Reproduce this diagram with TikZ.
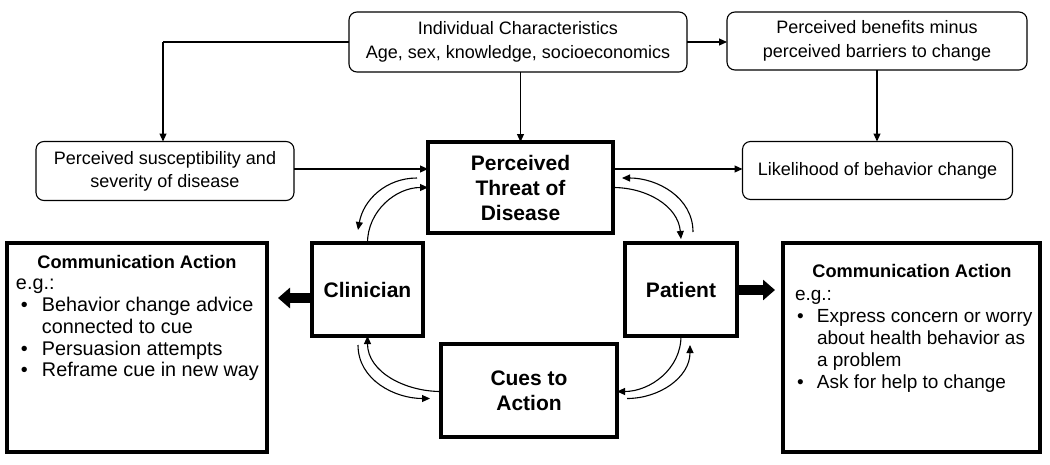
\documentclass[tikz,border=0pt]{standalone}
\usepackage{fontspec}
\setmainfont{Liberation Sans}
\usetikzlibrary{arrows.meta}
\begin{document}
\begin{tikzpicture}[x=1pt,y=-1pt,
  thin box/.style={draw, line width=1.1pt, rounded corners=8pt, inner sep=0pt, outer sep=0pt, align=center,
    font=\fontsize{18}{24}\selectfont},
  thick box/.style={draw, line width=3.2pt, inner sep=0pt, outer sep=0pt, align=center,
    font=\fontsize{21}{25}\selectfont\bfseries},
  comm box/.style={draw, line width=3.2pt, inner sep=0pt, outer sep=0pt},
  conn/.style={line width=1.1pt, -{Triangle[length=8pt,width=7pt]}},
  curv/.style={line width=1.1pt, -{Triangle[length=8pt,width=7pt]}},
  fat/.style={line width=10pt, -{Triangle[length=12pt,width=20pt]}},
  listtext/.style={inner sep=0pt, outer sep=0pt, anchor=north west, align=left,
    font=\fontsize{19.8}{21.7}\selectfont},
  titletext/.style={inner sep=0pt, anchor=base, font=\fontsize{18.2}{21.5}\selectfont\bfseries}
]
\useasboundingbox (0,0) rectangle (1050,464);

% top row
\node[thin box, minimum width=338pt, minimum height=60pt] (indiv) at (518,42)
  {Individual Characteristics\\Age, sex, knowledge, socioeconomics};
\node[thin box, minimum width=300pt, minimum height=58pt] (benef) at (877,41)
  {Perceived benefits minus\\perceived barriers to change};

% second row
\node[thin box, minimum width=258pt, minimum height=59pt, font=\fontsize{18}{23}\selectfont] (susc) at (165,171)
  {Perceived susceptibility and\\severity of disease};
\node[thick box, minimum width=185pt, minimum height=91pt] (thr) at (520.5,187.5)
  {Perceived\\Threat of\\Disease};
\node[thin box, minimum width=270pt, minimum height=58pt] (like) at (877.5,170.5)
  {Likelihood of behavior change};

% middle row
\node[thick box, minimum width=111pt, minimum height=93pt] (clin) at (367.5,289.5) {Clinician};
\node[thick box, minimum width=112pt, minimum height=93pt] (pat) at (681,289.5) {Patient};
\node[thick box, minimum width=176pt, minimum height=93pt] (cues) at (529,390.5) {Cues to\\Action};

% communication boxes
\node[comm box, minimum width=260pt, minimum height=209pt] (lcomm) at (137,347.5) {};
\node[comm box, minimum width=257pt, minimum height=209pt] (rcomm) at (911.5,347.5) {};

\node[titletext] (ltitle) at (137,268) {Communication Action};
\node[listtext] (llist) at (16,274.8) {\strut e.g.:\\
\makebox[26pt][l]{\hspace{5pt}•}Behavior change advice\\
\hspace*{26pt}connected to cue\\
\makebox[26pt][l]{\hspace{5pt}•}Persuasion attempts\\
\makebox[26pt][l]{\hspace{5pt}•}Reframe cue in new way};

\node[titletext] (rtitle) at (912,277) {Communication Action};
\node[listtext, font=\fontsize{19}{22}\selectfont] (rlist) at (795,284.6) {\strut e.g.:\\
\makebox[22pt][l]{\hspace{2pt}•}Express concern or worry\\
\hspace*{22pt}about health behavior as\\
\hspace*{22pt}a problem\\
\makebox[22pt][l]{\hspace{2pt}•}Ask for help to change};

% straight connectors
\coordinate (corner) at (163,42);
\draw[line width=1.1pt] (indiv.west) -- (corner);
\draw[conn] (corner) -- (corner |- susc.north);
\draw[conn] (indiv.south -| thr.north) -- (thr.north);
\draw[conn] (indiv.east) -- (benef.west |- indiv.east);
\draw[conn] (benef.south) -- (benef.south |- like.north);
\draw[conn] (susc.east |- 0,169) -- (thr.west |- 0,169);
\draw[conn] (thr.east |- 0,169) -- (like.west |- 0,169);

% curved connectors
\draw[curv] ([xshift=-11pt,yshift=9.5pt]thr.west) to[out=180,in=80] ([xshift=-9.5pt,yshift=13pt]clin.north);
\draw[curv] (clin.north) to[out=90,in=180] (thr.west);
\draw[curv] (thr.east) to[out=0,in=95] ([yshift=4pt]pat.north);
\draw[curv] ([xshift=12pt,yshift=11pt]pat.north) to[out=90,in=0] ([xshift=9pt,yshift=9.5pt]thr.east);
\draw[curv] ([yshift=-1pt]cues.west) to[out=180,in=-90] (clin.south);
\draw[curv] ([xshift=-9.5pt,yshift=-9pt]clin.south) to[out=-90,in=180] ([xshift=-11pt,yshift=-8pt]cues.west);
\draw[curv] (pat.south) to[out=-90,in=0] ([yshift=-1pt]cues.east);
\draw[curv] ([xshift=10pt,yshift=-8pt]cues.east) to[out=0,in=-90] ([xshift=9pt,yshift=-9pt]pat.south);

% fat arrows
\coordinate (lfat) at (278,298);
\coordinate (rfat) at (775,290);
\draw[fat] (clin.west |- lfat) -- (lfat);
\draw[fat] (pat.east |- rfat) -- (rfat);
\end{tikzpicture}
\end{document}
